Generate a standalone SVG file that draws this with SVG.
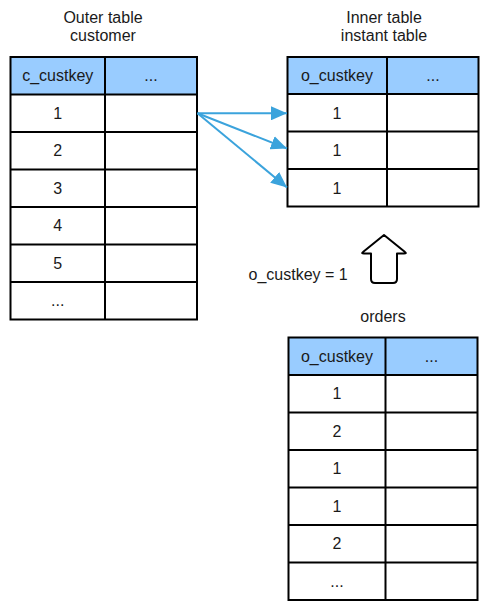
<svg xmlns="http://www.w3.org/2000/svg" width="493" height="615" viewBox="0 0 493 615">
<defs>
<style>
text{font-family:"Liberation Sans",Arial,sans-serif;font-size:16px;fill:#1a1a1a;text-anchor:middle}
.hdr{fill:#99ccff;stroke:none}
.cell{fill:#fff;stroke:none}
.grid{stroke:#000;stroke-width:2;fill:none}
.conn{stroke:#3ba3dc;stroke-width:2;fill:none}
</style>
<marker id="ah" markerUnits="userSpaceOnUse" markerWidth="18" markerHeight="14" refX="16" refY="7" orient="auto">
<path d="M0,0 L16,7 L0,14 Z" fill="#3ba3dc"/>
</marker>
</defs>
<rect width="493" height="615" fill="#fff"/>

<g id="outer-table">
<text x="103" y="23">Outer table</text>
<text x="103" y="41">customer</text>
<rect class="cell" x="10.5" y="57" width="186.5" height="262.5"/>
<rect class="hdr" x="10.5" y="57" width="186.5" height="37.5"/>
<path class="grid" d="M10.5,57 H197 V319.5 H10.5 Z M105,57 V319.5 M10.5,94.5 H197 M10.5,132 H197 M10.5,169.5 H197 M10.5,207 H197 M10.5,244.5 H197 M10.5,282 H197"/>
<text x="57.75" y="81">c_custkey</text>
<text x="151" y="81">...</text>
<text x="57.75" y="118.75">1</text>
<text x="57.75" y="156.25">2</text>
<text x="57.75" y="193.75">3</text>
<text x="57.75" y="231.25">4</text>
<text x="57.75" y="268.75">5</text>
<text x="57.75" y="306.25">...</text>
</g>

<g id="inner-table">
<text x="384" y="23">Inner table</text>
<text x="384" y="41">instant table</text>
<rect class="cell" x="287.5" y="57" width="191" height="149.5"/>
<rect class="hdr" x="287.5" y="57" width="191" height="37"/>
<path class="grid" d="M287.5,57 H478.5 V206.5 H287.5 Z M387,57 V206.5 M287.5,94 H478.5 M287.5,131.5 H478.5 M287.5,169 H478.5"/>
<text x="337" y="81">o_custkey</text>
<text x="433" y="81">...</text>
<text x="337" y="118.5">1</text>
<text x="337" y="156">1</text>
<text x="337" y="193.5">1</text>
</g>

<g id="filter-arrow">
<path d="M384,235 L405,252 Q407,253.5 404,253.5 L397,253.5 L397,279 Q397,283 393,283 L375,283 Q371,283 371,279 L371,253.5 L364,253.5 Q361,253.5 363,252 Z" fill="#fff" stroke="#000" stroke-width="2" stroke-linejoin="round"/>
<text x="248.5" y="280" style="text-anchor:start">o_custkey = 1</text>
</g>

<g id="orders-table">
<text x="383" y="322">orders</text>
<rect class="cell" x="288.5" y="337.5" width="189" height="262.5"/>
<rect class="hdr" x="288.5" y="337.5" width="189" height="37.5"/>
<path class="grid" d="M288.5,337.5 H477.5 V600 H288.5 Z M385.5,337.5 V600 M288.5,375 H477.5 M288.5,412.5 H477.5 M288.5,450 H477.5 M288.5,487.5 H477.5 M288.5,525 H477.5 M288.5,562.5 H477.5"/>
<text x="337" y="361.5">o_custkey</text>
<text x="431.5" y="361.5">...</text>
<text x="337" y="399">1</text>
<text x="337" y="436.5">2</text>
<text x="337" y="474">1</text>
<text x="337" y="511.5">1</text>
<text x="337" y="549">2</text>
<text x="337" y="586.5">...</text>
</g>

<g id="connectors">
<line class="conn" x1="197.5" y1="113.3" x2="287" y2="113.3" marker-end="url(#ah)"/>
<line class="conn" x1="197.5" y1="113.3" x2="287" y2="148.5" marker-end="url(#ah)"/>
<line class="conn" x1="197.5" y1="113.3" x2="287" y2="187.5" marker-end="url(#ah)"/>
</g>
</svg>
